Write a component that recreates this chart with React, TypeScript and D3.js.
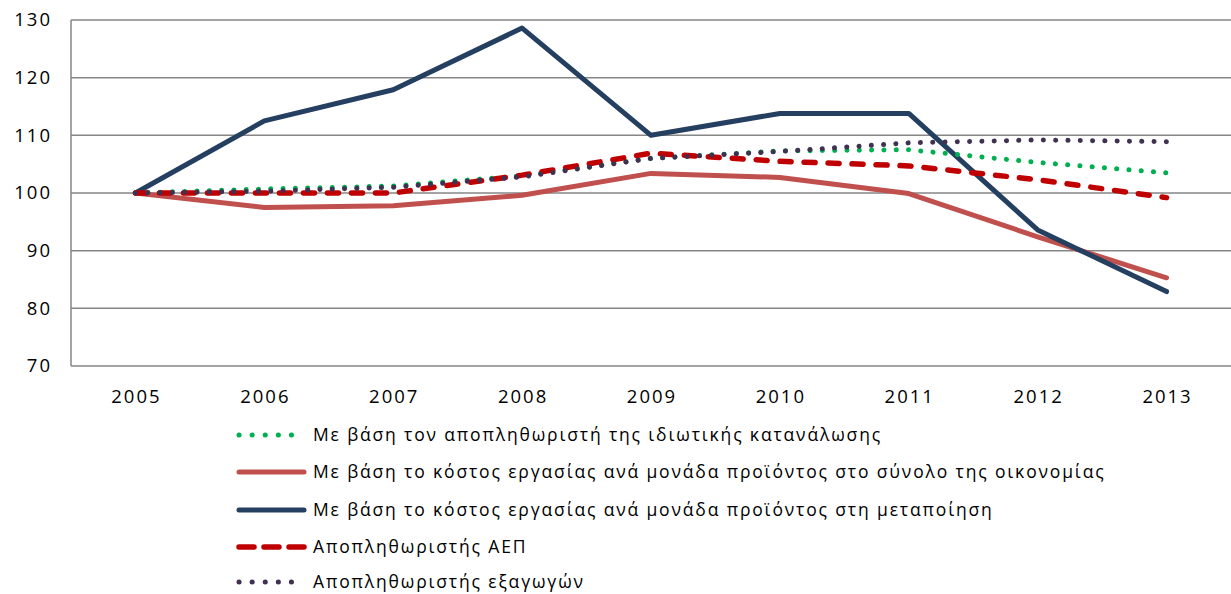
import * as d3 from "d3";
import { useEffect, useRef } from "react";

const years = ["2005", "2006", "2007", "2008", "2009", "2010", "2011", "2012", "2013"];
const yTicks = [70, 80, 90, 100, 110, 120, 130];

const privConsumption = [100, 100.7, 101.2, 103.0, 106.0, 107.3, 107.5, 105.3, 103.5];
const ulcTotal = [100, 97.5, 97.8, 99.6, 103.4, 102.7, 99.9, 92.4, 85.3];
const ulcManufacturing = [100, 112.5, 117.9, 128.6, 110, 113.8, 113.8, 93.6, 82.9];
const gdpDeflator = [100, 100, 100, 103.1, 106.9, 105.5, 104.7, 102.3, 99.2];
const exportDeflator = [100, 100.3, 101.0, 102.8, 106.0, 107.2, 108.7, 109.2, 108.9];

const labels = [
  "Με βάση τον αποπληθωριστή της ιδιωτικής κατανάλωσης",
  "Με βάση το κόστος εργασίας ανά μονάδα προϊόντος στο σύνολο της οικονομίας",
  "Με βάση το κόστος εργασίας ανά μονάδα προϊόντος στη μεταποίηση",
  "Αποπληθωριστής ΑΕΠ",
  "Αποπληθωριστής εξαγωγών",
];

type Style = { color: string; width: number; dash: string | null };

const styles: Style[] = [
  { color: "#00B050", width: 5, dash: "0.1 12.2" },
  { color: "#C0504D", width: 5, dash: null },
  { color: "#243F60", width: 5, dash: null },
  { color: "#C00000", width: 5.5, dash: "11 13" },
  { color: "#403152", width: 5, dash: "0.1 12.2" },
];

const seriesList = [privConsumption, ulcTotal, ulcManufacturing, gdpDeflator, exportDeflator];
// drawing order (Excel-ish overlap)
const drawOrder = [1, 2, 0, 3, 4];

export default function App() {
  const ref = useRef<SVGSVGElement>(null);
  const W = 1231;
  const H = 594;
  const margin = { top: 20, left: 71, right: 0, bottom: 228 };

  useEffect(() => {
    document.body.style.margin = "0";
    const svg = d3.select(ref.current);
    svg.selectAll("*").remove();

    const x = d3
      .scaleBand()
      .domain(years)
      .range([margin.left, W - margin.right]);
    const y = d3
      .scaleLinear()
      .domain([70, 130])
      .range([H - margin.bottom, margin.top]);

    const font = "'Open Sans', sans-serif";

    // gridlines
    svg
      .append("g")
      .selectAll("line")
      .data(yTicks)
      .join("line")
      .attr("x1", margin.left)
      .attr("x2", W)
      .attr("y1", (d) => y(d))
      .attr("y2", (d) => y(d))
      .attr("stroke", "#868686")
      .attr("stroke-width", 1.5);

    svg
      .append("line")
      .attr("x1", margin.left)
      .attr("x2", margin.left)
      .attr("y1", y(130))
      .attr("y2", y(70))
      .attr("stroke", "#868686")
      .attr("stroke-width", 1.5);

    // y labels
    svg
      .append("g")
      .selectAll("text")
      .data(yTicks)
      .join("text")
      .attr("x", 52)
      .attr("y", (d) => y(d))
      .attr("dy", "0.35em")
      .attr("text-anchor", "end")
      .style("font-family", font)
      .style("font-size", "18.5px")
      .style("letter-spacing", "2px")
      .attr("fill", "#000")
      .text((d) => d);

    // x labels
    svg
      .append("g")
      .selectAll("text")
      .data(years)
      .join("text")
      .attr("x", (d) => x(d)! + x.bandwidth() / 2 + 1)
      .attr("y", 397)
      .attr("dy", "0.35em")
      .attr("text-anchor", "middle")
      .style("font-family", font)
      .style("font-size", "18.5px")
      .style("letter-spacing", "2px")
      .attr("fill", "#000")
      .text((d) => d);

    const line = d3
      .line<number>()
      .x((_, i) => x(years[i])! + x.bandwidth() / 2)
      .y((d) => y(d));

    drawOrder.forEach((k) => {
      const s = styles[k];
      svg
        .append("path")
        .datum(seriesList[k])
        .attr("d", line)
        .attr("fill", "none")
        .attr("stroke", s.color)
        .attr("stroke-width", s.width)
        .attr("stroke-linejoin", "round")
        .attr("stroke-linecap", "round")
        .attr("stroke-dasharray", s.dash);
    });

    // legend
    const legendY = [435, 472, 510, 547, 582];
    const lg = svg.append("g");
    labels.forEach((lab, i) => {
      const s = styles[i];
      lg.append("line")
        .attr("x1", 239)
        .attr("x2", 304)
        .attr("y1", legendY[i])
        .attr("y2", legendY[i])
        .attr("stroke", s.color)
        .attr("stroke-width", s.width)
        .attr("stroke-linecap", "round")
        .attr("stroke-dasharray", s.dash ? (s.dash.startsWith("0.1") ? "0.1 13" : "15 10") : null);
      lg.append("text")
        .attr("x", 313)
        .attr("y", legendY[i])
        .attr("dy", "0.35em")
        .style("font-family", font)
        .style("font-size", "17.5px")
        .style("letter-spacing", "1.85px")
        .attr("fill", "#000")
        .text(lab);
    });
  }, []);

  return <svg ref={ref} width={W} height={H} style={{ display: "block", background: "#fff" }} />;
}
